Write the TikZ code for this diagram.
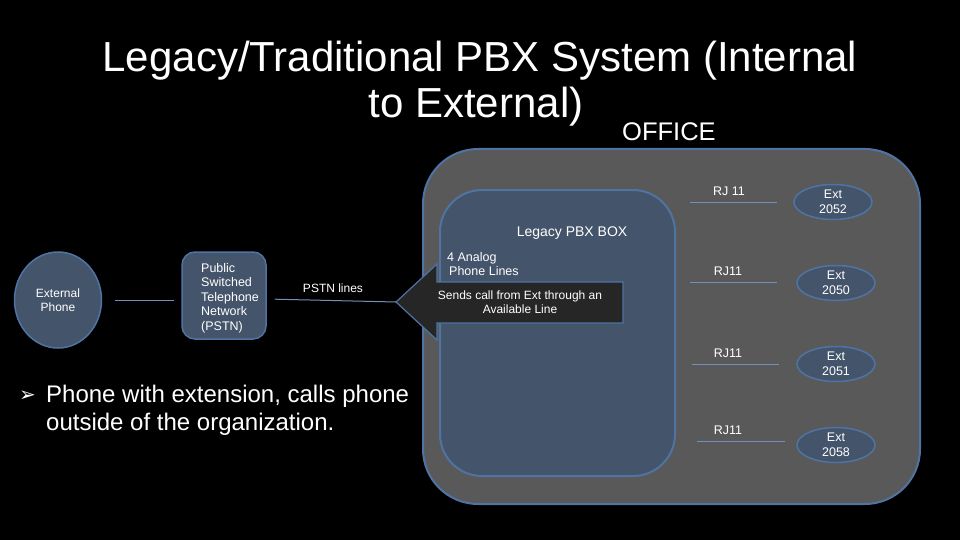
\documentclass[tikz,border=0pt]{standalone}
\usepackage{fontspec}
\setmainfont{Liberation Sans}
\newfontfamily\symfont{DejaVu Sans}
\usetikzlibrary{shapes.geometric}
\definecolor{bgblack}{HTML}{000000}
\definecolor{officegray}{HTML}{595959}
\definecolor{slate}{HTML}{44546A}
\definecolor{edgeblue}{HTML}{4F74A3}
\definecolor{lineblue}{HTML}{7390BA}
\definecolor{calloutfill}{HTML}{262626}
\tikzset{
  small/.style={font=\fontsize{12.5}{14.5}\selectfont, text=white, inner sep=0pt},
  officebox/.style={draw=edgeblue, line width=2pt, fill=officegray, rounded corners=55pt, inner sep=0pt},
  pbxbox/.style={draw=edgeblue, line width=2pt, fill=slate, rounded corners=42pt, inner sep=0pt},
  pstnbox/.style={draw=edgeblue, line width=1.5pt, fill=slate, rounded corners=13pt, inner sep=0pt},
  extell/.style={ellipse, draw=edgeblue, line width=1.5pt, fill=slate, inner sep=0pt,
    minimum width=78pt, minimum height=35pt, small, align=center},
  conn/.style={draw=lineblue, line width=1pt},
  bigtext/.style={text=white, font=\fontsize{24}{28.5}\selectfont, inner sep=0pt, anchor=base west},
}
\begin{document}
\begin{tikzpicture}[x=1pt,y=-1pt]
\useasboundingbox[fill=bgblack] (0,0) rectangle (960,540);
% title
\node[text=white, font=\fontsize{42}{47}\selectfont, inner sep=0pt, anchor=base] (t1) at (480,72) {Legacy/Traditional PBX System (Internal};
\node[text=white, font=\fontsize{42}{47}\selectfont, inner sep=0pt, anchor=base] (t2) at (476,118) {to External)};
\node[text=white, font=\fontsize{25.5}{28}\selectfont, inner sep=0pt, anchor=base west] (officelbl) at (622,141) {OFFICE};
% office and pbx
\node[officebox, minimum width=497pt, minimum height=355pt] (office) at (671.5,326.5) {};
\node[pbxbox, minimum width=235pt, minimum height=286pt] (pbx) at (557.5,333) {};
\node[small, font=\fontsize{14}{16}\selectfont] (pbxlbl) at (572,233) {Legacy PBX BOX};
\node[small, align=left, anchor=west] (analog) at (447,264) {4 Analog\\\hspace*{2pt}Phone Lines};
% callout
\coordinate (tip) at (396,302);
\draw[draw=edgeblue, line width=1.2pt, fill=calloutfill]
  (623,282) -- (437,282) -- (437,264) -- (tip) -- (437,340) -- (437,323) -- (623,323) -- cycle;
\node[small, font=\fontsize{12}{14}\selectfont, align=center] (callout) at (520,302) {Sends call from Ext through an\\Available Line};
% external phone and pstn
\node[ellipse, draw=edgeblue, line width=1.5pt, fill=slate, minimum width=87pt, minimum height=96pt, inner sep=0pt, small, font=\fontsize{12}{14}\selectfont, align=center] (ext) at (58,300) {External\\Phone};
\node[pstnbox, minimum width=84pt, minimum height=87pt] (pstn) at (224,295.5) {};
\node[small, align=left, anchor=west] (pstntxt) at (201,298) {Public\\Switched\\Telephone\\Network\\(PSTN)};
\draw[conn, shorten <=13pt, shorten >=7pt] (ext.east) -- (pstn.west |- ext.east);
\draw[conn, shorten <=8pt] (pstn.east |- 0,299) -- (tip);
\node[small, font=\fontsize{12}{14}\selectfont] (pstnlines) at (333,288) {PSTN lines};
% extensions
\node[extell] (e1) at (833,202) {Ext\\2052};
\node[extell] (e2) at (836,283) {Ext\\2050};
\node[extell] (e3) at (836,364) {Ext\\2051};
\node[extell] (e4) at (836,445) {Ext\\2058};
\coordinate (r1) at (690,202);
\coordinate (r2) at (690,282);
\coordinate (r3) at (692,364);
\coordinate (r4) at (697,441);
\draw[conn, shorten >=16pt] (r1) -- (e1.west |- r1);
\draw[conn, shorten >=19pt] (r2) -- (e2.west |- r2);
\draw[conn, shorten >=17pt] (r3) -- (e3.west |- r3);
\draw[conn, shorten >=11pt] (r4) -- (e4.west |- r4);
\node[small] (j1) at (729,191) {RJ 11};
\node[small] (j2) at (728,271) {RJ11};
\node[small] (j3) at (728,353) {RJ11};
\node[small] (j4) at (728,430) {RJ11};
% bullet
\node[text=white, font=\fontsize{20}{24}\symfont, inner sep=0pt, anchor=base west] (bul) at (19,401) {➢};
\node[bigtext] (btxt) at (46,402) {Phone with extension, calls phone};
\node[bigtext] (btxt2) at (46,430) {outside of the organization.};
\end{tikzpicture}
\end{document}
